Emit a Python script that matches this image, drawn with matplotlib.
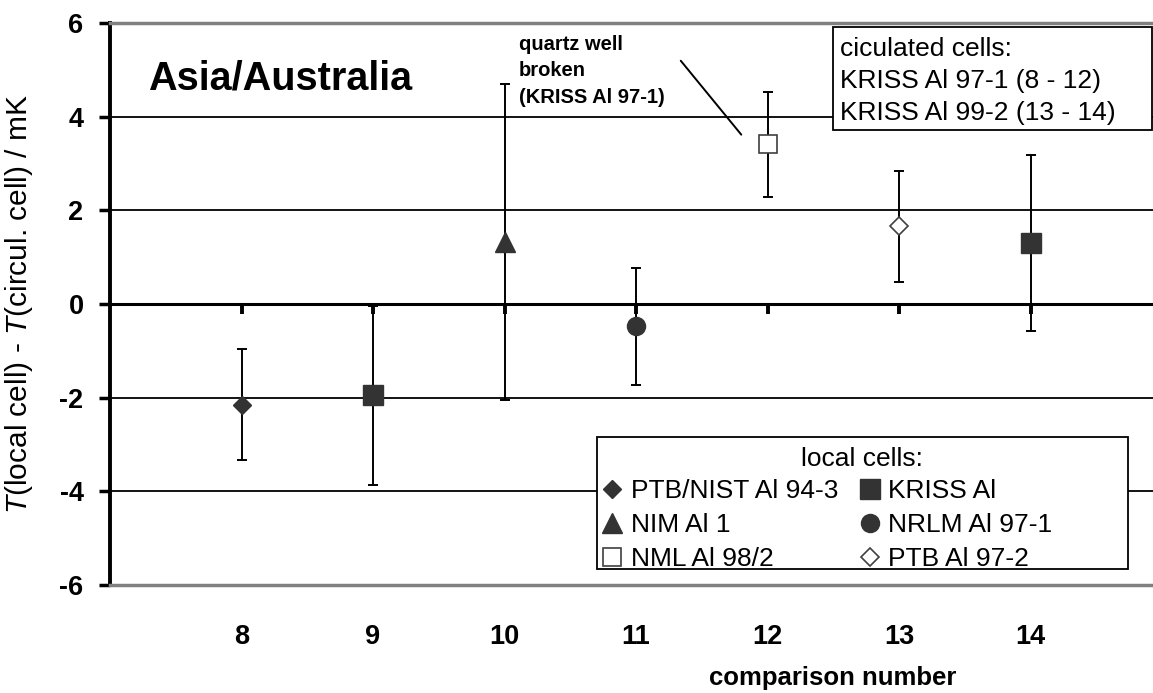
import matplotlib
matplotlib.use("Agg")
import matplotlib.pyplot as plt
from matplotlib.patches import Rectangle

# comparison number, T(local) - T(circulated) in mK, and its uncertainty
comparison_numbers = [8, 9, 10, 11, 12, 13, 14]
differences = [-2.15, -1.95, 1.33, -0.48, 3.41, 1.66, 1.30]
uncertainties = [1.19, 1.91, 3.37, 1.25, 1.12, 1.19, 1.88]
local_cells = ["PTB/NIST Al 94-3", "KRISS Al", "NIM Al 1", "NRLM Al 97-1",
               "NML Al 98/2", "PTB Al 97-2", "KRISS Al"]

legend_order = ["PTB/NIST Al 94-3", "NIM Al 1", "NML Al 98/2",
                "KRISS Al", "NRLM Al 97-1", "PTB Al 97-2"]
circulated_lines = ["ciculated cells:", "KRISS Al 97-1 (8 - 12)",
                    "KRISS Al 99-2 (13 - 14)"]
y_ticks = [-6, -4, -2, 0, 2, 4, 6]

dark = "#333333"
styles = {
    "PTB/NIST Al 94-3": dict(marker="D", ms=9.5, mfc=dark, mec=dark),
    "KRISS Al": dict(marker="s", ms=14, mfc=dark, mec=dark),
    "NIM Al 1": dict(marker="^", ms=14, mfc=dark, mec=dark),
    "NRLM Al 97-1": dict(marker="o", ms=13, mfc=dark, mec=dark),
    "NML Al 98/2": dict(marker="s", ms=12.5, mfc="white", mec="#404040", mew=1.2),
    "PTB Al 97-2": dict(marker="D", ms=9.5, mfc="white", mec="#404040", mew=1.2),
}

plt.rcParams["font.family"] = ["Liberation Sans", "DejaVu Sans"]
plt.rcParams["mathtext.fontset"] = "custom"
plt.rcParams["mathtext.it"] = "Liberation Sans:italic"
plt.rcParams["mathtext.rm"] = "Liberation Sans"

W, H = 1153, 693
fig = plt.figure(figsize=(W / 100, H / 100), dpi=100)
ax = fig.add_axes([110 / W, (H - 585) / H, (1162 - 110) / W, (585 - 23) / H])

ax.set_xlim(7, 15)
ax.set_ylim(-6, 6)
ax.set_yticks(y_ticks)
ax.set_yticklabels([str(t) for t in y_ticks])
ax.set_xticks(comparison_numbers)
ax.set_xticklabels([str(n) for n in comparison_numbers])

ax.yaxis.grid(True, color="black", linewidth=1.3)
ax.set_axisbelow(True)

ax.spines["left"].set_linewidth(2.8)
ax.spines["left"].set_color("black")
for side in ["top", "bottom"]:
    ax.spines[side].set_color("#808080")
    ax.spines[side].set_linewidth(2.5)
ax.spines["right"].set_visible(False)

ax.tick_params(axis="y", direction="out", length=8, width=2.5, pad=11,
               labelsize=19.5)
ax.tick_params(axis="x", length=0, pad=28, labelsize=19.5)
for lab in ax.get_xticklabels() + ax.get_yticklabels():
    lab.set_fontweight("bold")

# zero line with the category ticks hanging below it
zero_axis = ax.secondary_xaxis(0.5)
zero_axis.set_alignment("bottom")
zero_axis.set_xticks(comparison_numbers)
zero_axis.set_xticklabels([])
zero_axis.tick_params(direction="out", length=7.5, width=2.8)
zero_axis.spines["bottom"].set_linewidth(2.2)
zero_axis.spines["bottom"].set_color("black")

# error bars
ax.errorbar(comparison_numbers, differences, yerr=uncertainties, fmt="none",
            ecolor="black", elinewidth=1.4, capsize=3.8, capthick=1.4, zorder=3)

# markers, grouped by local cell
handles = {}
for cell in legend_order:
    xs = [x for x, c in zip(comparison_numbers, local_cells) if c == cell]
    ys = [y for y, c in zip(differences, local_cells) if c == cell]
    line, = ax.plot(xs, ys, linestyle="none", label=cell, zorder=4, **styles[cell])
    handles[cell] = line

ax.set_ylabel(r"$T$(local cell) - $T$(circul. cell) / mK", fontsize=21.5)
ax.yaxis.set_label_coords(-0.071, 0.5)
ax.set_xlabel("comparison number", fontsize=18.5, fontweight="bold")
ax.xaxis.set_label_coords(0.687, -0.144)

ax.text(7.29, 4.81, "Asia/Australia", fontsize=28.5, fontweight="bold",
        ha="left", va="center")

ax.text(10.11, 5.75, "quartz well\nbroken\n(KRISS Al 97-1)", fontsize=14.5,
        fontweight="bold", ha="left", va="top", linespacing=1.5)
ax.annotate("", xy=(11.814, 3.57), xytext=(11.327, 5.24),
            arrowprops=dict(arrowstyle="-", color="black", lw=1.4))

# circulated cells box
ax.add_patch(Rectangle((833 / W, 1 - 130 / H), (1152 - 833) / W, (130 - 27) / H,
                       transform=fig.transFigure, facecolor="white",
                       edgecolor="black", linewidth=1.3, zorder=5))
ax.text(840 / W, 1 - 37 / H, "\n".join(circulated_lines), transform=fig.transFigure,
        fontsize=19, ha="left", va="top", linespacing=1.42, zorder=6)

# local cells legend
ax.add_patch(Rectangle((597 / W, 1 - 569 / H), (1128 - 597) / W, (569 - 437) / H,
                       transform=fig.transFigure, facecolor="white",
                       edgecolor="black", linewidth=1.3, zorder=5))
ax.text(862 / W, 1 - 459 / H, "local cells:", transform=fig.transFigure,
        fontsize=19, ha="center", va="center", zorder=6)
leg = ax.legend([handles[c] for c in legend_order], legend_order, ncol=2,
                loc="upper left", bbox_to_anchor=(599 / W, 1 - 479 / H),
                bbox_transform=fig.transFigure, frameon=False, fontsize=19,
                numpoints=1, handlelength=1.0, handletextpad=0.2,
                columnspacing=0.7, labelspacing=0.38, borderpad=0,
                borderaxespad=0)
leg.set_zorder(7)

fig.savefig("out.png", dpi=100)
